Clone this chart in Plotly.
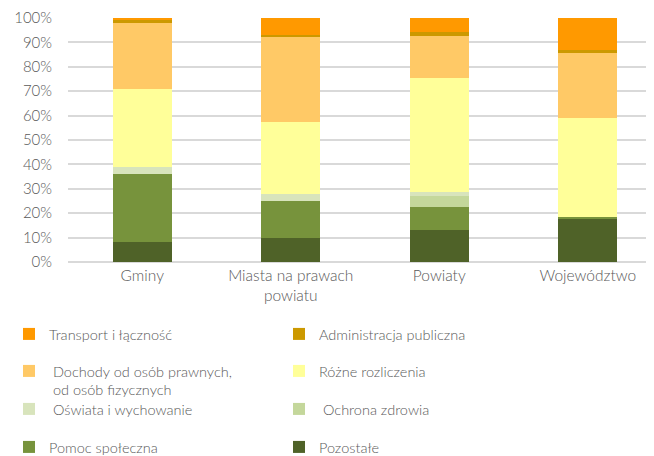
import plotly.graph_objects as go

categories = ["Gminy", "Miasta na prawach<br>powiatu", "Powiaty", "Województwo"]

# values in % of each category (bottom to top of the stack)
pozostale = [8.1, 9.9, 13.2, 17.8]
pomoc = [28.1, 15.0, 9.3, 0.5]
ochrona = [0.0, 0.0, 4.5, 0.0]
oswiata = [2.7, 3.0, 1.8, 0.0]
rozne = [32.2, 29.6, 46.7, 40.7]
dochody = [27.1, 35.0, 17.2, 26.8]
administracja = [0.8, 0.7, 1.5, 1.0]
transport = [1.0, 6.8, 5.8, 13.2]

y_ticks = [0, 10, 20, 30, 40, 50, 60, 70, 80, 90, 100]

NB = "\u00a0"
series = [
    ("Pozostałe", pozostale, "#4f6228", "legend4"),
    ("Pomoc społeczna", pomoc, "#77933c", "legend4"),
    (NB + "Ochrona zdrowia", ochrona, "#c4d79b", "legend3"),
    (NB + "Oświata i wychowanie", oswiata, "#d8e4bc", "legend3"),
    ("Różne rozliczenia", rozne, "#ffff99", "legend2"),
    (NB + "Dochody od osób prawnych,<br>" + NB + "od osób fizycznych", dochody, "#ffc966", "legend2"),
    ("Administracja publiczna", administracja, "#cc9900", "legend"),
    ("Transport i łączność", transport, "#ff9900", "legend"),
]

FONT = "Lato"
TXT = "#595959"
FS = 15
FW = 300

fig = go.Figure()
for name, vals, color, leg in series:
    fig.add_trace(go.Bar(
        x=categories, y=vals, name=name, legend=leg,
        marker=dict(color=color, line=dict(width=0)),
    ))

# page has an 8px body margin, so the figure is drawn 8px in from the window edge
W, H = 646, 448
L, R, T, B = 60, 0, 10, 194
ph = H - T - B

def py(px):
    return (H - B - px) / ph

def px_x(px):
    return (px - L) / (W - L - R)

legend_common = dict(
    orientation="h", traceorder="reversed", entrywidth=225, entrywidthmode="pixels",
    font=dict(family=FONT, size=14.5, color=TXT, weight=FW), bgcolor="rgba(0,0,0,0)",
    xanchor="left", yanchor="top", valign="top", x=px_x(1),
)
rows = [310, 347, 385, 423]

fig.update_layout(
    width=W, height=H,
    margin=dict(l=L, r=R, t=T, b=B, autoexpand=False),
    paper_bgcolor="white", plot_bgcolor="white",
    barmode="stack", bargap=0.6,
    font=dict(family=FONT, size=FS, color=TXT, weight=FW),
    showlegend=True,
    legend=dict(legend_common, y=py(rows[0])),
    legend2=dict(legend_common, y=py(rows[1])),
    legend3=dict(legend_common, y=py(rows[2])),
    legend4=dict(legend_common, y=py(rows[3])),
    xaxis=dict(
        range=[-0.5, 3.446], showgrid=False, showline=False, zeroline=False,
        ticks="", ticklabelstandoff=2,
        tickfont=dict(family=FONT, size=15.5, color=TXT, weight=FW),
    ),
    yaxis=dict(
        range=[0, 100], tickvals=y_ticks, ticktext=[f"{v}%" for v in y_ticks],
        showgrid=True, gridcolor="#d9d9d9", gridwidth=1.5,
        zeroline=True, zerolinecolor="#d9d9d9", zerolinewidth=1.5,
        showline=False, ticks="", ticklabelstandoff=15,
        tickfont=dict(family=FONT, size=FS, color=TXT, weight=FW),
    ),
)

fig.write_html("out.html")
